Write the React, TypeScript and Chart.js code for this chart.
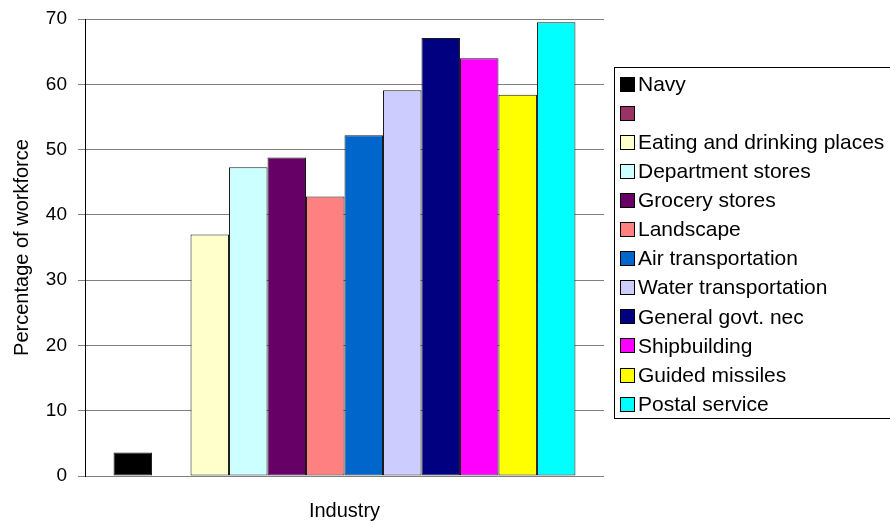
import React, { useEffect, useRef } from "react";
import { Chart, registerables } from "chart.js";

Chart.register(...registerables);

// One category, one series per industry (the second series is an unnamed placeholder)
const categories = ["Industry"];
const industries = [
  "Navy",
  "",
  "Eating and drinking places",
  "Department stores",
  "Grocery stores",
  "Landscape",
  "Air transportation",
  "Water transportation",
  "General govt. nec",
  "Shipbuilding",
  "Guided missiles",
  "Postal service",
];
const shares: (number | null)[] = [3.6, null, 37.0, 47.3, 48.8, 42.8, 52.2, 59.1, 67.1, 64.0, 58.4, 69.5];
const colors = [
  "#000000",
  "#993366",
  "#FFFFCC",
  "#CCFFFF",
  "#660066",
  "#FF8080",
  "#0066CC",
  "#CCCCFF",
  "#000080",
  "#FF00FF",
  "#FFFF00",
  "#00FFFF",
];
const yMin = 0;
const yMax = 70;
const yStep = 10;

const FONT = '"Liberation Sans", Arial, Helvetica, sans-serif';

// Boxed legend on the right, drawn from the dataset labels and colours
const boxLegend = {
  id: "boxLegend",
  afterDraw(chart: any) {
    const ctx: CanvasRenderingContext2D = chart.ctx;
    ctx.save();
    ctx.strokeStyle = "#000000";
    ctx.lineWidth = 1;
    ctx.strokeRect(614.5, 67.5, 300, 351);
    ctx.font = `21px ${FONT}`;
    ctx.textBaseline = "middle";
    ctx.textAlign = "left";
    chart.data.datasets.forEach((ds: any, i: number) => {
      const cy = 84 + i * 29.1;
      const top = Math.round(cy - 6.5);
      ctx.fillStyle = ds.backgroundColor;
      ctx.fillRect(621, top, 13, 13);
      ctx.strokeStyle = "#000000";
      ctx.strokeRect(620.5, top - 0.5, 14, 14);
      ctx.fillStyle = "#000000";
      ctx.fillText(ds.label, 638, cy + 1);
    });
    ctx.restore();
  },
};

export default function App() {
  const canvasRef = useRef<HTMLCanvasElement | null>(null);

  useEffect(() => {
    const canvas = canvasRef.current;
    if (!canvas) return;
    const chart = new Chart(canvas, {
      type: "bar",
      data: {
        labels: categories,
        datasets: industries.map((name, i) => ({
          label: name,
          data: [shares[i]],
          backgroundColor: colors[i],
          borderColor: "#1a1a1a",
          borderWidth: 1,
          borderSkipped: false,
          categoryPercentage: 0.89,
          barPercentage: 1.0,
        })),
      },
      options: {
        responsive: false,
        animation: false,
        layout: { padding: { top: 19, right: 286, bottom: 0, left: 0 } },
        plugins: {
          legend: { display: false },
          tooltip: { enabled: false },
        },
        scales: {
          x: {
            grid: { display: false },
            border: { display: false },
            ticks: { display: false },
            title: {
              display: true,
              text: "Industry",
              color: "#000000",
              font: { family: FONT, size: 20 },
              padding: { top: 0, bottom: 4 },
            },
            afterFit(scale: any) {
              scale.height = 51;
              scale.paddingLeft = 0;
              scale.paddingRight = 0;
            },
          },
          y: {
            min: yMin,
            max: yMax,
            ticks: {
              stepSize: yStep,
              color: "#000000",
              font: { family: FONT, size: 19 },
              padding: 11,
            },
            grid: {
              color: "#808080",
              lineWidth: 1,
              tickLength: 7,
              drawTicks: true,
            },
            border: { display: true, color: "#000000", width: 1 },
            title: {
              display: true,
              text: "Percentage of workforce",
              color: "#000000",
              font: { family: FONT, size: 20 },
              padding: { top: 10, bottom: 0 },
            },
            afterFit(scale: any) {
              scale.width = 85;
              scale.paddingTop = 0;
              scale.paddingBottom = 0;
            },
          },
        },
      },
      plugins: [boxLegend],
    });
    return () => chart.destroy();
  }, []);

  return (
    <div style={{ position: "absolute", left: 0, top: 0, width: 890, height: 527, background: "#ffffff" }}>
      <canvas ref={canvasRef} width={890} height={527} />
    </div>
  );
}
